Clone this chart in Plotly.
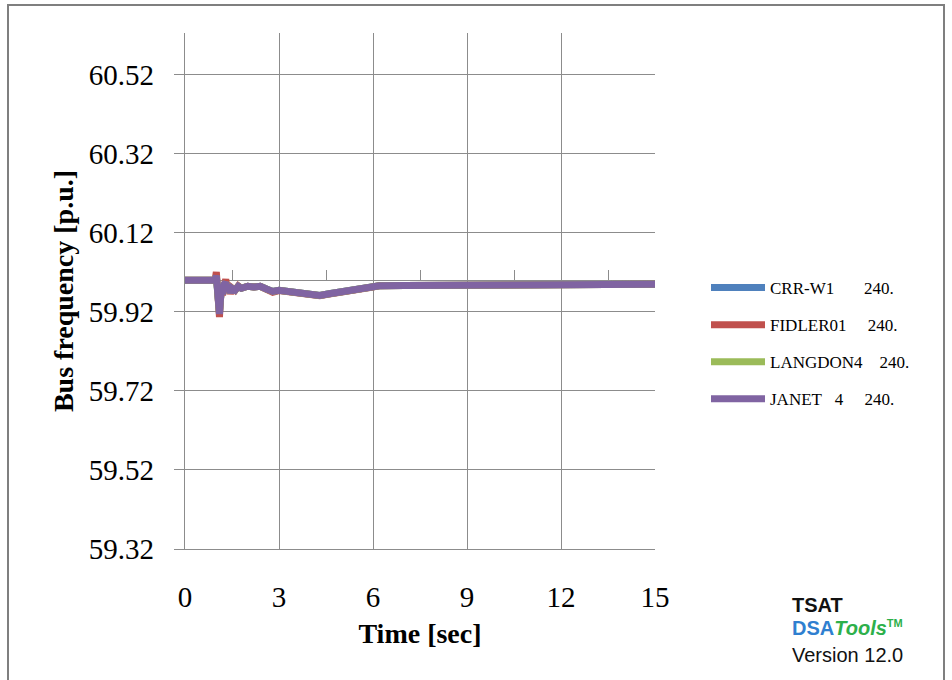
import plotly.graph_objects as go

# ---- data ----
time_s = [0, 0.5, 0.96, 1.0, 1.03, 1.06, 1.08, 1.1, 1.13, 1.17, 1.2, 1.25, 1.3, 1.35,
          1.4, 1.45, 1.5, 1.6, 1.7, 1.8, 2.0, 2.2, 2.4, 2.6, 2.8, 3.0, 3.3, 3.7, 4.1,
          4.3, 4.6, 5.0, 5.3, 5.6, 5.9, 6.2, 7.0, 7.6, 7.8, 9.0, 10.5, 12.0, 12.4,
          12.6, 12.9, 13.1, 13.3, 13.5, 14.0, 15.0]

crr_w1 = [60.0, 60.0, 60.0, 60.010, 59.962, 59.988, 59.932, 59.918, 59.952, 59.984,
          59.966, 59.988, 59.993, 59.976, 59.985, 59.969, 59.980, 59.976, 59.985, 59.980,
          59.985, 59.983, 59.985, 59.978, 59.972, 59.975, 59.972, 59.965, 59.960,
          59.962, 59.966, 59.972, 59.975, 59.978, 59.982, 59.986, 59.987, 59.987,
          59.990, 59.990, 59.990, 59.990, 59.989, 59.990, 59.989, 59.990, 59.989,
          59.990, 59.990, 59.990]

fidler01 = [60.0, 60.0, 60.0, 60.021, 59.958, 59.990, 59.925, 59.907, 59.950, 59.988,
            59.963, 59.990, 60.003, 59.974, 59.987, 59.966, 59.981, 59.975, 59.986, 59.980,
            59.985, 59.983, 59.985, 59.977, 59.970, 59.974, 59.971, 59.964, 59.959,
            59.961, 59.965, 59.972, 59.975, 59.978, 59.982, 59.986, 59.987, 59.987,
            59.991, 59.990, 59.990, 59.990, 59.987, 59.990, 59.987, 59.990, 59.987,
            59.990, 59.990, 59.990]

langdon4 = [60.0, 60.0, 60.0, 60.011, 59.961, 59.989, 59.931, 59.917, 59.951, 59.985,
            59.966, 59.989, 59.994, 59.975, 59.985, 59.968, 59.980, 59.975, 59.985, 59.980,
            59.985, 59.983, 59.985, 59.978, 59.972, 59.975, 59.972, 59.965, 59.960,
            59.962, 59.966, 59.972, 59.975, 59.978, 59.982, 59.986, 59.987, 59.987,
            59.990, 59.990, 59.990, 59.990, 59.989, 59.990, 59.989, 59.990, 59.989,
            59.990, 59.990, 59.990]

janet4 = [60.0, 60.0, 60.0, 60.012, 59.960, 59.990, 59.930, 59.915, 59.950, 59.985,
          59.965, 59.990, 59.995, 59.975, 59.985, 59.968, 59.980, 59.975, 59.985, 59.980,
          59.985, 59.983, 59.985, 59.978, 59.972, 59.975, 59.972, 59.965, 59.960,
          59.962, 59.966, 59.972, 59.975, 59.978, 59.982, 59.986, 59.987, 59.987,
          59.990, 59.990, 59.990, 59.990, 59.989, 59.990, 59.989, 59.990, 59.989,
          59.990, 59.990, 59.990]

NB = "\u00a0"
series_names = ["CRR-W1" + NB * 7 + "240.",
                "FIDLER01" + NB * 5 + "240.",
                "LANGDON4" + NB * 4 + "240.",
                "JANET" + NB * 3 + "4" + NB * 5 + "240."]
series_values = [crr_w1, fidler01, langdon4, janet4]
series_colors = ["#4F81BD", "#C0504D", "#9BBB59", "#8064A2"]

y_ticks = [59.32, 59.52, 59.72, 59.92, 60.12, 60.32, 60.52]
x_ticks = [0, 3, 6, 9, 12, 15]
x_minor_ticks = [1.5, 4.5, 7.5, 10.5, 13.5]
y_range = [59.32, 60.626]
x_range = [0, 15]
axis_cross = 60.0

# ---- figure ----
W, H = 952, 680
ML, MR, MT, MB = 185, 297, 33, 131
GRID = "#8c8c8c"
SERIF = "Liberation Serif, Times New Roman, serif"
SANS = "Liberation Sans, Arial, sans-serif"

fig = go.Figure()
for i, (name, vals, col) in enumerate(zip(series_names, series_values, series_colors)):
    fig.add_trace(go.Scatter(
        x=time_s, y=vals, mode="lines", name=name,
        line=dict(color=col, width=7),
        legendgroup=f"g{i}",
        xaxis="x2" if i == 3 else "x",
    ))

cross_pos = (axis_cross - y_range[0]) / (y_range[1] - y_range[0])

pw, ph = W - ML - MR, H - MT - MB
def px_x(px):
    return (px - ML) / pw
def px_y(py):
    return (H - MB - py) / ph

fig.update_layout(
    width=W, height=H,
    margin=dict(l=ML, r=MR, t=MT, b=MB, pad=0, autoexpand=False),
    paper_bgcolor="white", plot_bgcolor="white",
    font=dict(family=SERIF, color="black"),
    showlegend=True,
    legend=dict(
        x=px_x(706), xanchor="left",
        y=px_y(270), yanchor="top",
        font=dict(family=SERIF, size=17, color="black"),
        bgcolor="rgba(0,0,0,0)", borderwidth=0,
        itemwidth=54, tracegroupgap=12,
    ),
    xaxis=dict(
        range=x_range, tickvals=x_ticks, ticktext=[str(v) for v in x_ticks],
        showgrid=True, gridcolor=GRID, gridwidth=1.3,
        showline=True, linecolor=GRID, linewidth=1.3,
        zeroline=False, ticks="", ticklabelstandoff=22,
        tickfont=dict(family=SERIF, size=29, color="black"),
        title=dict(text="<b>Time [sec]</b>", font=dict(family=SERIF, size=28, color="black"),
                   standoff=11),
    ),
    xaxis2=dict(
        overlaying="x", matches="x", anchor="free", position=cross_pos,
        range=x_range, tickvals=x_minor_ticks, showticklabels=False,
        ticks="inside", ticklen=10, tickcolor=GRID, tickwidth=1.3,
        showline=True, linecolor=GRID, linewidth=1.3, showgrid=False, zeroline=False,
        layer="below traces",
    ),
    yaxis=dict(
        range=y_range, tickvals=y_ticks, ticktext=[f"{v:.2f}" for v in y_ticks],
        showgrid=True, gridcolor=GRID, gridwidth=1.3,
        showline=True, linecolor=GRID, linewidth=1.3, zeroline=False,
        ticks="outside", ticklen=10, tickcolor=GRID, tickwidth=1.3,
        ticklabelstandoff=14,
        tickfont=dict(family=SERIF, size=29, color="black"),
        title=dict(text="<b>Bus frequency [p.u.]</b>", font=dict(family=SERIF, size=28, color="black"),
                   standoff=6),
    ),
)

# outer frame of the original picture
fig.add_shape(type="rect", xref="paper", yref="paper",
              x0=px_x(8), x1=px_x(944), y0=px_y(700), y1=px_y(5),
              line=dict(color="#7f7f7f", width=2), fillcolor="rgba(0,0,0,0)", layer="below")

# TSAT logo text
fig.add_annotation(xref="paper", yref="paper", x=px_x(790), y=px_y(605), xanchor="left",
                   yanchor="middle", showarrow=False, align="left",
                   text="<b>TSAT</b>", font=dict(family=SANS, size=20, color="#111111"))
fig.add_annotation(xref="paper", yref="paper", x=px_x(790), y=px_y(628), xanchor="left",
                   yanchor="middle", showarrow=False, align="left",
                   text="<b><span style='color:#2F7FD0'>DSA</span>"
                        "<i><span style='color:#2DB04B'>Tools</span></i></b>"
                        "<sup><span style='color:#2DB04B;font-size:11px'><b>TM</b></span></sup>",
                   font=dict(family=SANS, size=20, color="#2F7FD0"))
fig.add_annotation(xref="paper", yref="paper", x=px_x(790), y=px_y(655), xanchor="left",
                   yanchor="middle", showarrow=False, align="left",
                   text="Version 12.0", font=dict(family=SANS, size=20, color="#111111"))

fig.write_html("out.html", config={"displayModeBar": False},
               post_script="document.body.style.margin='0';")
